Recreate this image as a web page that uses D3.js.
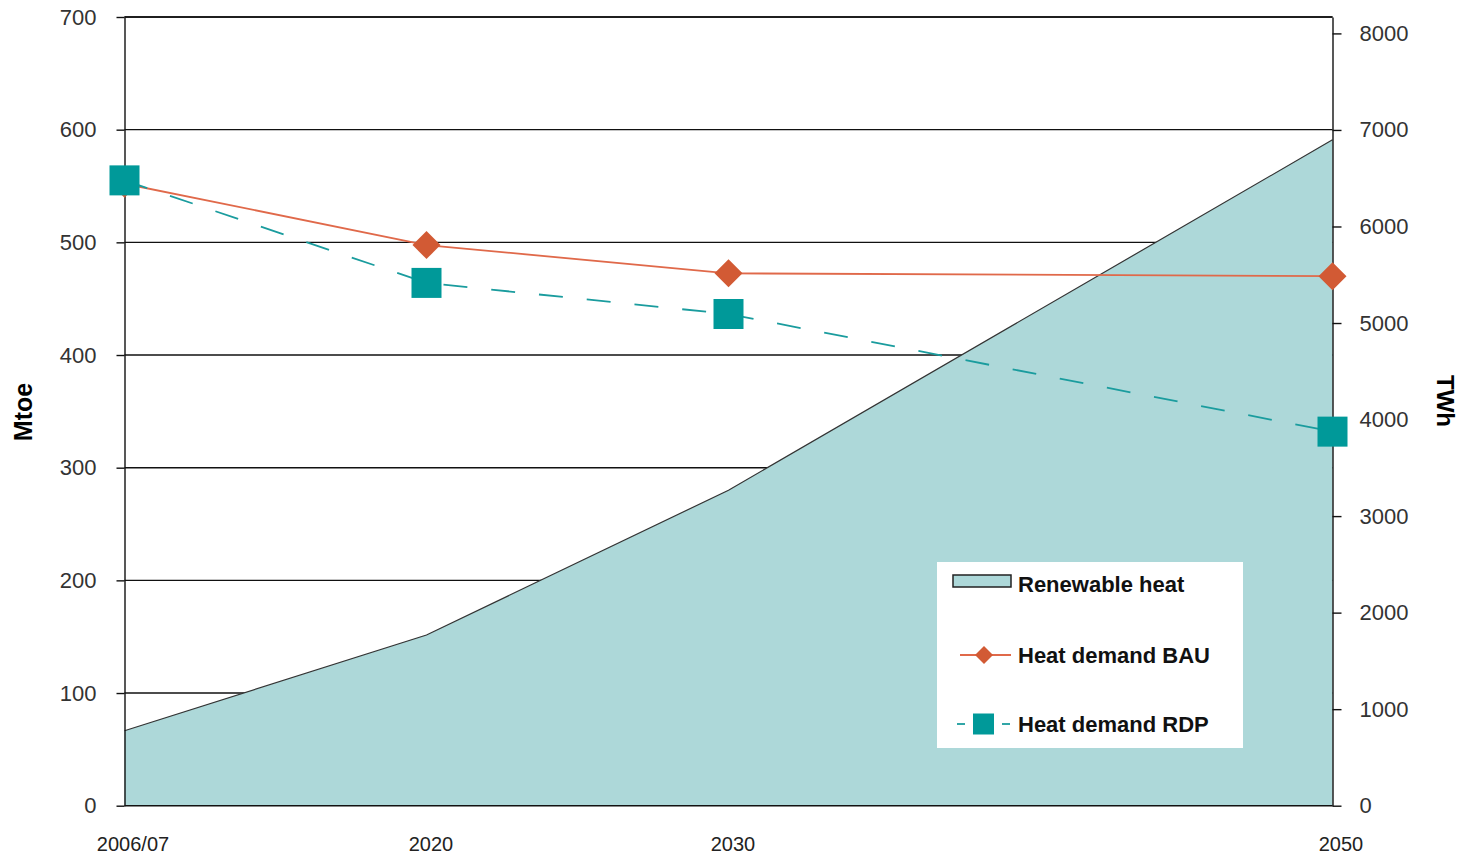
<!DOCTYPE html>
<html>
<head>
<meta charset="utf-8">
<script src="https://cdn.jsdelivr.net/npm/d3@7"></script>
<style>
  html, body { margin: 0; padding: 0; background: #fff; }
  svg { display: block; }
  text { font-family: "Liberation Sans", Arial, sans-serif; }
</style>
</head>
<body>
<svg id="chart" width="1460" height="856"></svg>
<script>
// ---- data ----
const years = [2010, 2020, 2030, 2050];
const yearLabels = ["2006/07", "2020", "2030", "2050"];
const renewableHeat = [66.5, 151.5, 280, 591];     // Mtoe
const heatDemandBAU = [552, 497.6, 472.5, 470];    // Mtoe
const heatDemandRDP = [555, 464, 436.4, 332];      // Mtoe
const leftTicks = [0, 100, 200, 300, 400, 500, 600, 700];
const rightTicks = [0, 1000, 2000, 3000, 4000, 5000, 6000, 7000, 8000];
const seriesNames = ["Renewable heat", "Heat demand BAU", "Heat demand RDP"];

// ---- style ----
const areaFill = "#add8d9";
const bauColor = "#e0694a";
const bauMarker = "#d25a34";
const rdpColor = "#1a9c9e";
const rdpMarker = "#009999";

const svg = d3.select("#chart");
const L = 124.5, R = 1332.5, T = 17, B = 805.7;

const x = d3.scaleLinear().domain([2010, 2050]).range([L, R]);
const y = d3.scaleLinear().domain([0, 700]).range([B, T]);
const y2 = d3.scaleLinear().domain([0, 8170]).range([B, T]);

const data = years.map((yr, i) => ({
  yr, label: yearLabels[i], ren: renewableHeat[i], bau: heatDemandBAU[i], rdp: heatDemandRDP[i]
}));

// gridlines (behind area)
svg.append("g").selectAll("line")
  .data(leftTicks.filter(t => t > 0))
  .join("line")
  .attr("x1", L).attr("x2", R)
  .attr("y1", d => y(d)).attr("y2", d => y(d))
  .attr("stroke", "#111").attr("stroke-width", 1.4);

// area
svg.append("path")
  .datum(data)
  .attr("d", d3.area().x(d => x(d.yr)).y0(y(0)).y1(d => y(d.ren)))
  .attr("fill", areaFill);
svg.append("path")
  .datum(data)
  .attr("d", d3.line().x(d => x(d.yr)).y(d => y(d.ren)))
  .attr("fill", "none").attr("stroke", "#333").attr("stroke-width", 1.2);

// left axis
const gL = svg.append("g").attr("transform", `translate(${L},0)`)
  .call(d3.axisLeft(y).tickValues(leftTicks).tickSize(8).tickSizeOuter(0).tickPadding(20));
// right axis
const gR = svg.append("g").attr("transform", `translate(${R},0)`)
  .call(d3.axisRight(y2).tickValues(rightTicks).tickSize(9).tickSizeOuter(0).tickPadding(18).tickFormat(d3.format("d")));
// bottom axis (labels only, offset slightly right as in reference)
const gB = svg.append("g").attr("transform", `translate(0,${B})`)
  .call(d3.axisBottom(x).tickValues(years).tickSize(0).tickPadding(31)
    .tickFormat((d, i) => yearLabels[i]));
gB.select(".domain").remove();
gB.selectAll(".tick text").attr("dx", (d, i) => (i === 0 || i === 3) ? 8 : 4);

[gL, gR].forEach(g => {
  g.select(".domain").attr("stroke", "#111").attr("stroke-width", 1.4);
  g.selectAll(".tick line").attr("stroke", "#111").attr("stroke-width", 1.4);
  g.selectAll(".tick text").attr("fill", "#333").attr("font-size", 22)
    .style("font-family", "'Liberation Sans', Arial, sans-serif");
});
gB.selectAll(".tick text").attr("fill", "#222").attr("font-size", 20)
  .style("font-family", "'Liberation Sans', Arial, sans-serif");

// top border and baseline
svg.append("line").attr("x1", L).attr("x2", R).attr("y1", y(700)).attr("y2", y(700))
  .attr("stroke", "#111").attr("stroke-width", 1.4);
svg.append("line").attr("x1", L).attr("x2", R).attr("y1", y(0)).attr("y2", y(0))
  .attr("stroke", "#111").attr("stroke-width", 1.6);

// BAU line
svg.append("path").datum(data)
  .attr("d", d3.line().x(d => x(d.yr)).y(d => y(d.bau)))
  .attr("fill", "none").attr("stroke", bauColor).attr("stroke-width", 1.8);
// RDP line
svg.append("path").datum(data)
  .attr("d", d3.line().x(d => x(d.yr)).y(d => y(d.rdp)))
  .attr("fill", "none").attr("stroke", rdpColor).attr("stroke-width", 1.8)
  .attr("stroke-dasharray", "24,24");

// markers
const diamond = (cx, cy, h) => `M${cx},${cy - h}L${cx + h},${cy}L${cx},${cy + h}L${cx - h},${cy}Z`;
svg.append("g").selectAll("path").data(data).join("path")
  .attr("d", d => diamond(x(d.yr), y(d.bau), 14))
  .attr("fill", bauMarker);
svg.append("g").selectAll("rect").data(data).join("rect")
  .attr("x", d => x(d.yr) - 15).attr("y", d => y(d.rdp) - 15)
  .attr("width", 30).attr("height", 30)
  .attr("fill", rdpMarker);

// axis titles
svg.append("text")
  .attr("transform", "translate(32,412) rotate(-90)")
  .attr("text-anchor", "middle")
  .attr("font-size", 25).attr("font-weight", "bold").attr("fill", "#000")
  .text("Mtoe");
svg.append("text")
  .attr("transform", "translate(1437,401) rotate(90)")
  .attr("text-anchor", "middle")
  .attr("font-size", 24).attr("font-weight", "bold").attr("fill", "#000")
  .text("TWh");

// legend
const lg = svg.append("g");
lg.append("rect").attr("x", 937).attr("y", 562).attr("width", 306).attr("height", 186).attr("fill", "#fff");
const rowY = [581, 655, 724];
lg.append("rect").attr("x", 953).attr("y", rowY[0] - 6).attr("width", 58).attr("height", 12)
  .attr("fill", areaFill).attr("stroke", "#222").attr("stroke-width", 1.5);
lg.append("line").attr("x1", 960).attr("x2", 1011).attr("y1", rowY[1]).attr("y2", rowY[1])
  .attr("stroke", bauColor).attr("stroke-width", 1.8);
lg.append("path").attr("d", diamond(984, rowY[1], 9)).attr("fill", bauMarker);
lg.append("line").attr("x1", 957).attr("x2", 965).attr("y1", rowY[2]).attr("y2", rowY[2])
  .attr("stroke", rdpColor).attr("stroke-width", 1.8);
lg.append("line").attr("x1", 1002).attr("x2", 1010).attr("y1", rowY[2]).attr("y2", rowY[2])
  .attr("stroke", rdpColor).attr("stroke-width", 1.8);
lg.append("rect").attr("x", 973).attr("y", rowY[2] - 10.5).attr("width", 21).attr("height", 21).attr("fill", rdpMarker);
lg.selectAll("text.lt").data(seriesNames).join("text")
  .attr("class", "lt")
  .attr("x", 1018).attr("y", (d, i) => [584, 655, 724][i])
  .attr("dy", "0.35em")
  .attr("font-size", 22).attr("font-weight", "bold").attr("fill", "#111")
  .text(d => d);
</script>
</body>
</html>
